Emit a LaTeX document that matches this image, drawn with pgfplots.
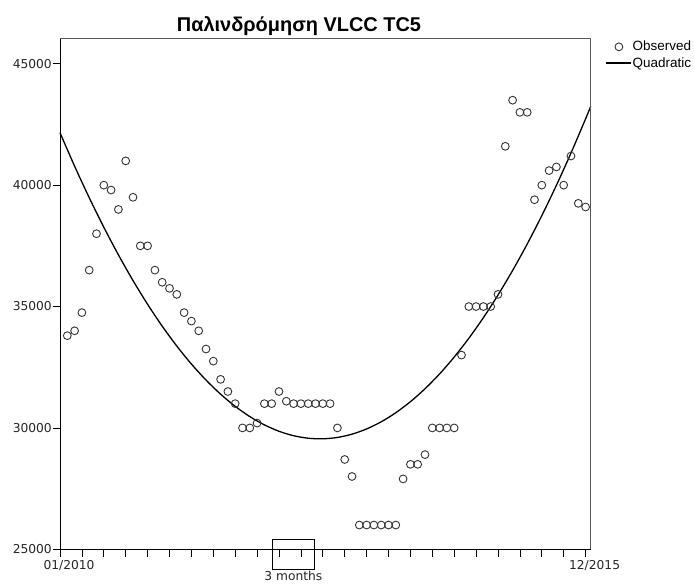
\documentclass[border=0pt]{standalone}
\usepackage{pgfplots}
\pgfplotsset{compat=1.18}
\usepackage{fontspec}
\setmainfont{DejaVu Sans}
\newfontfamily\titlefont{Liberation Sans}
\newfontfamily\legfont{Liberation Sans}
\pgfplotsset{
  obsleg/.style={legend image code/.code={\path[draw=none] (0bp,0bp) -- (25bp,0bp); \draw[##1, mark=none] (13bp,0bp) circle (3.9bp);}},
  lineleg/.style={legend image code/.code={\draw[##1] (0bp,0bp) -- (25bp,0bp);}},
}
\begin{document}
\begin{tikzpicture}[x=1bp,y=1bp]
\path[use as bounding box] (0,0) rectangle (694,584);
\begin{axis}[
  at={(60bp,34.7bp)}, anchor=south west,
  scale only axis, width=530.7bp, height=511bp,
  xmin=0, xmax=72.7, ymin=25000, ymax=46050,
  axis x line=bottom, axis y line=left,
  axis line style={-, black, line width=0.9bp},
  tick align=outside, major tick length=7.5bp,
  scaled y ticks=false, scaled x ticks=false,
  xtick={0,3,...,72}, xticklabels={},
  extra x ticks={0,72}, extra x tick labels={01/2010,12/2015},
  extra x tick style={xticklabel style={xshift=9bp, yshift=-2.5bp}},
  ytick={25000,30000,35000,40000,45000},
  yticklabels={25000,30000,35000,40000,45000},
  tick style={black, line width=0.8bp},
  tick label style={font=\fontsize{12.3}{14}\selectfont, text=black!85},
  yticklabel style={inner sep=0.5bp},
  xticklabel style={inner sep=1bp},
  clip=false,
  legend style={at={(1.027,0.997)}, anchor=north west, draw=none, fill=none,
    font=\legfont\fontsize{13.5}{15}\selectfont, inner sep=0pt, row sep=2.5bp,
    nodes={inner sep=1.2bp}, cells={anchor=west}},
  legend cell align=left,
]
\addplot[only marks, mark=o, mark size=3.9bp, black!80, line width=0.9bp, obsleg]
coordinates {
(1,33800)(2,34000)(3,34750)(4,36500)(5,38000)(6,40000)(7,39800)(8,39000)
(9,41000)(10,39500)(11,37500)(12,37500)(13,36500)(14,36000)(15,35750)(16,35500)
(17,34750)(18,34400)(19,34000)(20,33250)(21,32750)(22,32000)(23,31500)(24,31000)
(25,30000)(26,30000)(27,30200)(28,31000)(29,31000)(30,31500)(31,31100)(32,31000)
(33,31000)(34,31000)(35,31000)(36,31000)(37,31000)(38,30000)(39,28700)(40,28000)
(41,26000)(42,26000)(43,26000)(44,26000)(45,26000)(46,26000)(47,27900)(48,28500)
(49,28500)(50,28900)(51,30000)(52,30000)(53,30000)(54,30000)(55,33000)(56,35000)
(57,35000)(58,35000)(59,35000)(60,35500)(61,41600)(62,43500)(63,43000)(64,43000)
(65,39400)(66,40000)(67,40600)(68,40750)(69,40000)(70,41200)(71,39250)(72,39100)
};
\addlegendentry{Observed}
\addplot[black, line width=1.3bp, smooth, no marks, lineleg]
coordinates {
(0,42160)(2,40783)(4,39486)(6,38268)(8,37130)(10,36071)(12,35092)(14,34192)
(16,33372)(18,32632)(20,31971)(22,31390)(24,30889)(26,30467)(28,30125)(30,29862)
(32,29679)(34,29575)(36,29552)(38,29607)(40,29743)(42,29958)(44,30252)(46,30626)
(48,31080)(50,31613)(52,32226)(54,32919)(56,33691)(58,34543)(60,35474)(62,36485)
(64,37575)(66,38745)(68,39995)(70,41324)(72,42733)(72.7,43245)
};
\addlegendentry{Quadratic}
\draw[black!65, line width=0.9bp] (rel axis cs:0,1) -- (rel axis cs:1,1) -- (rel axis cs:1,0);
\draw[black, line width=0.9bp] (axis cs:29.08,25412) rectangle (axis cs:34.84,24175);
\node[anchor=base, font=\fontsize{12.3}{14}\selectfont, text=black!85] at (axis cs:31.96,23720) {3 months};
\end{axis}
\node[anchor=base, font=\titlefont\bfseries\fontsize{20}{23}\selectfont] at (299,552.3) {Παλινδρόμηση VLCC TC5};
\end{tikzpicture}
\end{document}
